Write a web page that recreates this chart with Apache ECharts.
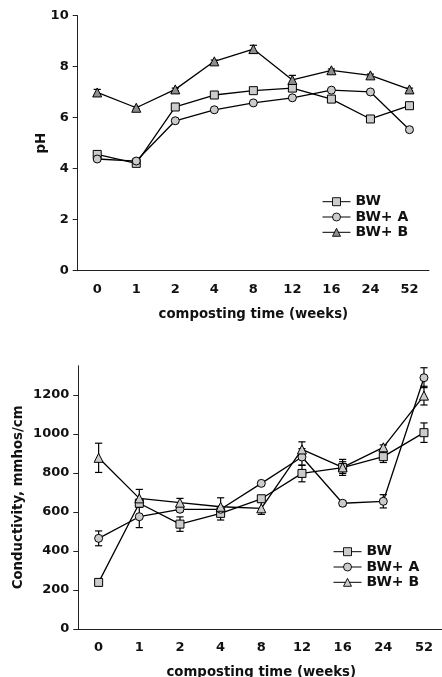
<!DOCTYPE html>
<html>
<head>
<meta charset="utf-8">
<script src="https://cdn.jsdelivr.net/npm/echarts@6/dist/echarts.min.js"></script>
<style>
html, body { margin: 0; padding: 0; background: #fff; }
#chart { width: 442px; height: 677px; }
</style>
</head>
<body>
<div id="chart"></div>
<script>
// Composting time categories (weeks)
const weeks = ['0', '1', '2', '4', '8', '12', '16', '24', '52'];
const seriesNames = ['BW', 'BW+ A', 'BW+ B'];

// pH over composting time
const phBW  = [4.56, 4.21, 6.42, 6.89, 7.06, 7.16, 6.73, 5.95, 6.47];
const phBWA = [4.38, 4.30, 5.88, 6.31, 6.58, 6.78, 7.08, 7.01, 5.53];
const phBWB = [6.99, 6.39, 7.11, 8.21, 8.69, 7.48, 7.86, 7.66, 7.11];
const phErrBW  = [0.05, 0.05, 0.05, 0.05, 0.05, 0.05, 0.05, 0.05, 0.08];
const phErrBWA = [0.05, 0.10, 0.05, 0.05, 0.05, 0.05, 0.05, 0.05, 0.08];
const phErrBWB = [0.12, 0.05, 0.05, 0.05, 0.15, 0.18, 0.05, 0.05, 0.05];

// Conductivity (mmhos/cm) over composting time
const condBW  = [239, 645, 538, 593, 668, 798, 828, 884, 1007];
const condBWA = [465, 576, 614, 614, 747, 882, 645, 655, 1289];
const condBWB = [878, 670, 648, 627, 619, 921, 829, 932, 1197];
const condErrBW  = [8, 20, 37, 34, 15, 43, 30, 30, 50];
const condErrBWA = [38, 56, 12, 10, 8, 43, 12, 34, 51];
const condErrBWB = [75, 46, 22, 46, 31, 39, 41, 12, 48];

// Axis tick values
const phTicks = [0, 2, 4, 6, 8, 10];
const condTicks = [0, 200, 400, 600, 800, 1000, 1200];

const FONT = 'DejaVu Sans';
const LIGHT = '#cbcbcb';
const DARK = '#8e8e8e';
const symbols = ['rect', 'circle', 'triangle'];
const symbolSizes = [8, 8, 9];

function lineSeries(name, idx, values, axisIdx, fill) {
  return {
    type: 'line',
    name: name,
    xAxisIndex: axisIdx,
    yAxisIndex: axisIdx,
    data: values,
    symbol: symbols[idx],
    symbolSize: symbolSizes[idx],
    showAllSymbol: true,
    lineStyle: { color: '#000', width: 1.3 },
    itemStyle: { color: fill, borderColor: '#000', borderWidth: 1 },
    z: 3,
    animation: false
  };
}

function errorBars(values, errs, axisIdx) {
  return {
    type: 'custom',
    xAxisIndex: axisIdx,
    yAxisIndex: axisIdx,
    silent: true,
    z: 2,
    animation: false,
    encode: { x: 0, y: [1, 2] },
    data: values.map((v, i) => [i, v - errs[i], v + errs[i]]),
    renderItem(params, api) {
      const lo = api.coord([api.value(0), api.value(1)]);
      const hi = api.coord([api.value(0), api.value(2)]);
      const hw = 3.6;
      const st = { stroke: '#000', lineWidth: 1.2 };
      return {
        type: 'group',
        children: [
          { type: 'line', shape: { x1: lo[0], y1: lo[1], x2: hi[0], y2: hi[1] }, style: st },
          { type: 'line', shape: { x1: lo[0] - hw, y1: lo[1], x2: lo[0] + hw, y2: lo[1] }, style: st },
          { type: 'line', shape: { x1: hi[0] - hw, y1: hi[1], x2: hi[0] + hw, y2: hi[1] }, style: st }
        ]
      };
    }
  };
}

const axisLine = { lineStyle: { color: '#222', width: 1 } };
const axisTick = { length: 5, lineStyle: { color: '#222', width: 1 } };
const labelStyle = { color: '#111', fontFamily: FONT, fontWeight: 'bold', fontSize: 13 };
const nameStyle = { color: '#111', fontFamily: FONT, fontWeight: 'bold', fontSize: 13.3 };

function xAxis(gridIndex) {
  return {
    type: 'category',
    gridIndex: gridIndex,
    data: weeks,
    boundaryGap: true,
    axisLine: axisLine,
    axisTick: Object.assign({ alignWithLabel: false }, axisTick),
    axisLabel: Object.assign({ margin: 12 }, labelStyle),
    name: 'composting time (weeks)',
    nameLocation: 'middle',
    nameGap: 37,
    nameMoveOverlap: false,
    nameTextStyle: nameStyle,
    splitLine: { show: false }
  };
}

function legendItem(name, fill) {
  return {
    name: name,
    itemStyle: { color: fill, borderColor: '#000', borderWidth: 0.9 },
    lineStyle: { color: '#000', width: 1 }
  };
}

function legend(left, top, triColor) {
  return {
    orient: 'vertical',
    left: left,
    top: top,
    padding: 0,
    itemWidth: 28,
    itemHeight: 10,
    itemGap: 1.3,
    textStyle: { color: '#111', fontFamily: FONT, fontWeight: 'bold', fontSize: 14, lineHeight: 14 },
    data: [
      legendItem(seriesNames[0], LIGHT),
      legendItem(seriesNames[1], LIGHT),
      legendItem(seriesNames[2], triColor)
    ],
    selectedMode: false
  };
}

const plainNumber = v => String(v);

const chart = echarts.init(document.getElementById('chart'), null, { renderer: 'canvas' });

chart.setOption({
  backgroundColor: '#fff',
  animation: false,
  grid: [
    { left: 77.7, top: 15.7, width: 351.3, height: 255, outerBoundsMode: 'none', containLabel: false },
    { left: 78.3, top: 365.8, width: 366, height: 263.2, outerBoundsMode: 'none', containLabel: false }
  ],
  xAxis: [xAxis(0), xAxis(1)],
  yAxis: [
    {
      type: 'value', gridIndex: 0, min: 0, max: 10, interval: 2,
      axisLine: Object.assign({ show: true }, axisLine),
      axisTick: Object.assign({ show: true, customValues: phTicks }, axisTick),
      axisLabel: Object.assign({ margin: 9, customValues: phTicks, formatter: plainNumber }, labelStyle),
      splitLine: { show: false },
      name: 'pH', nameLocation: 'middle', nameGap: 30, nameMoveOverlap: false, nameTextStyle: nameStyle
    },
    {
      type: 'value', gridIndex: 1, min: 0, max: 1350, interval: 200,
      axisLine: Object.assign({ show: true }, axisLine),
      axisTick: Object.assign({ show: true, customValues: condTicks }, axisTick),
      axisLabel: Object.assign({ margin: 9, customValues: condTicks, formatter: plainNumber }, labelStyle),
      splitLine: { show: false },
      name: 'Conductivity, mmhos/cm', nameLocation: 'middle', nameGap: 53, nameMoveOverlap: false, nameTextStyle: nameStyle
    }
  ],
  legend: [legend(322, 194.7, DARK), legend(333, 544.7, LIGHT)],
  series: [
    errorBars(phBW, phErrBW, 0),
    errorBars(phBWA, phErrBWA, 0),
    errorBars(phBWB, phErrBWB, 0),
    lineSeries(seriesNames[0], 0, phBW, 0, LIGHT),
    lineSeries(seriesNames[1], 1, phBWA, 0, LIGHT),
    lineSeries(seriesNames[2], 2, phBWB, 0, DARK),
    errorBars(condBW, condErrBW, 1),
    errorBars(condBWA, condErrBWA, 1),
    errorBars(condBWB, condErrBWB, 1),
    lineSeries(seriesNames[0], 0, condBW, 1, LIGHT),
    lineSeries(seriesNames[1], 1, condBWA, 1, LIGHT),
    lineSeries(seriesNames[2], 2, condBWB, 1, LIGHT)
  ]
});
</script>
</body>
</html>
